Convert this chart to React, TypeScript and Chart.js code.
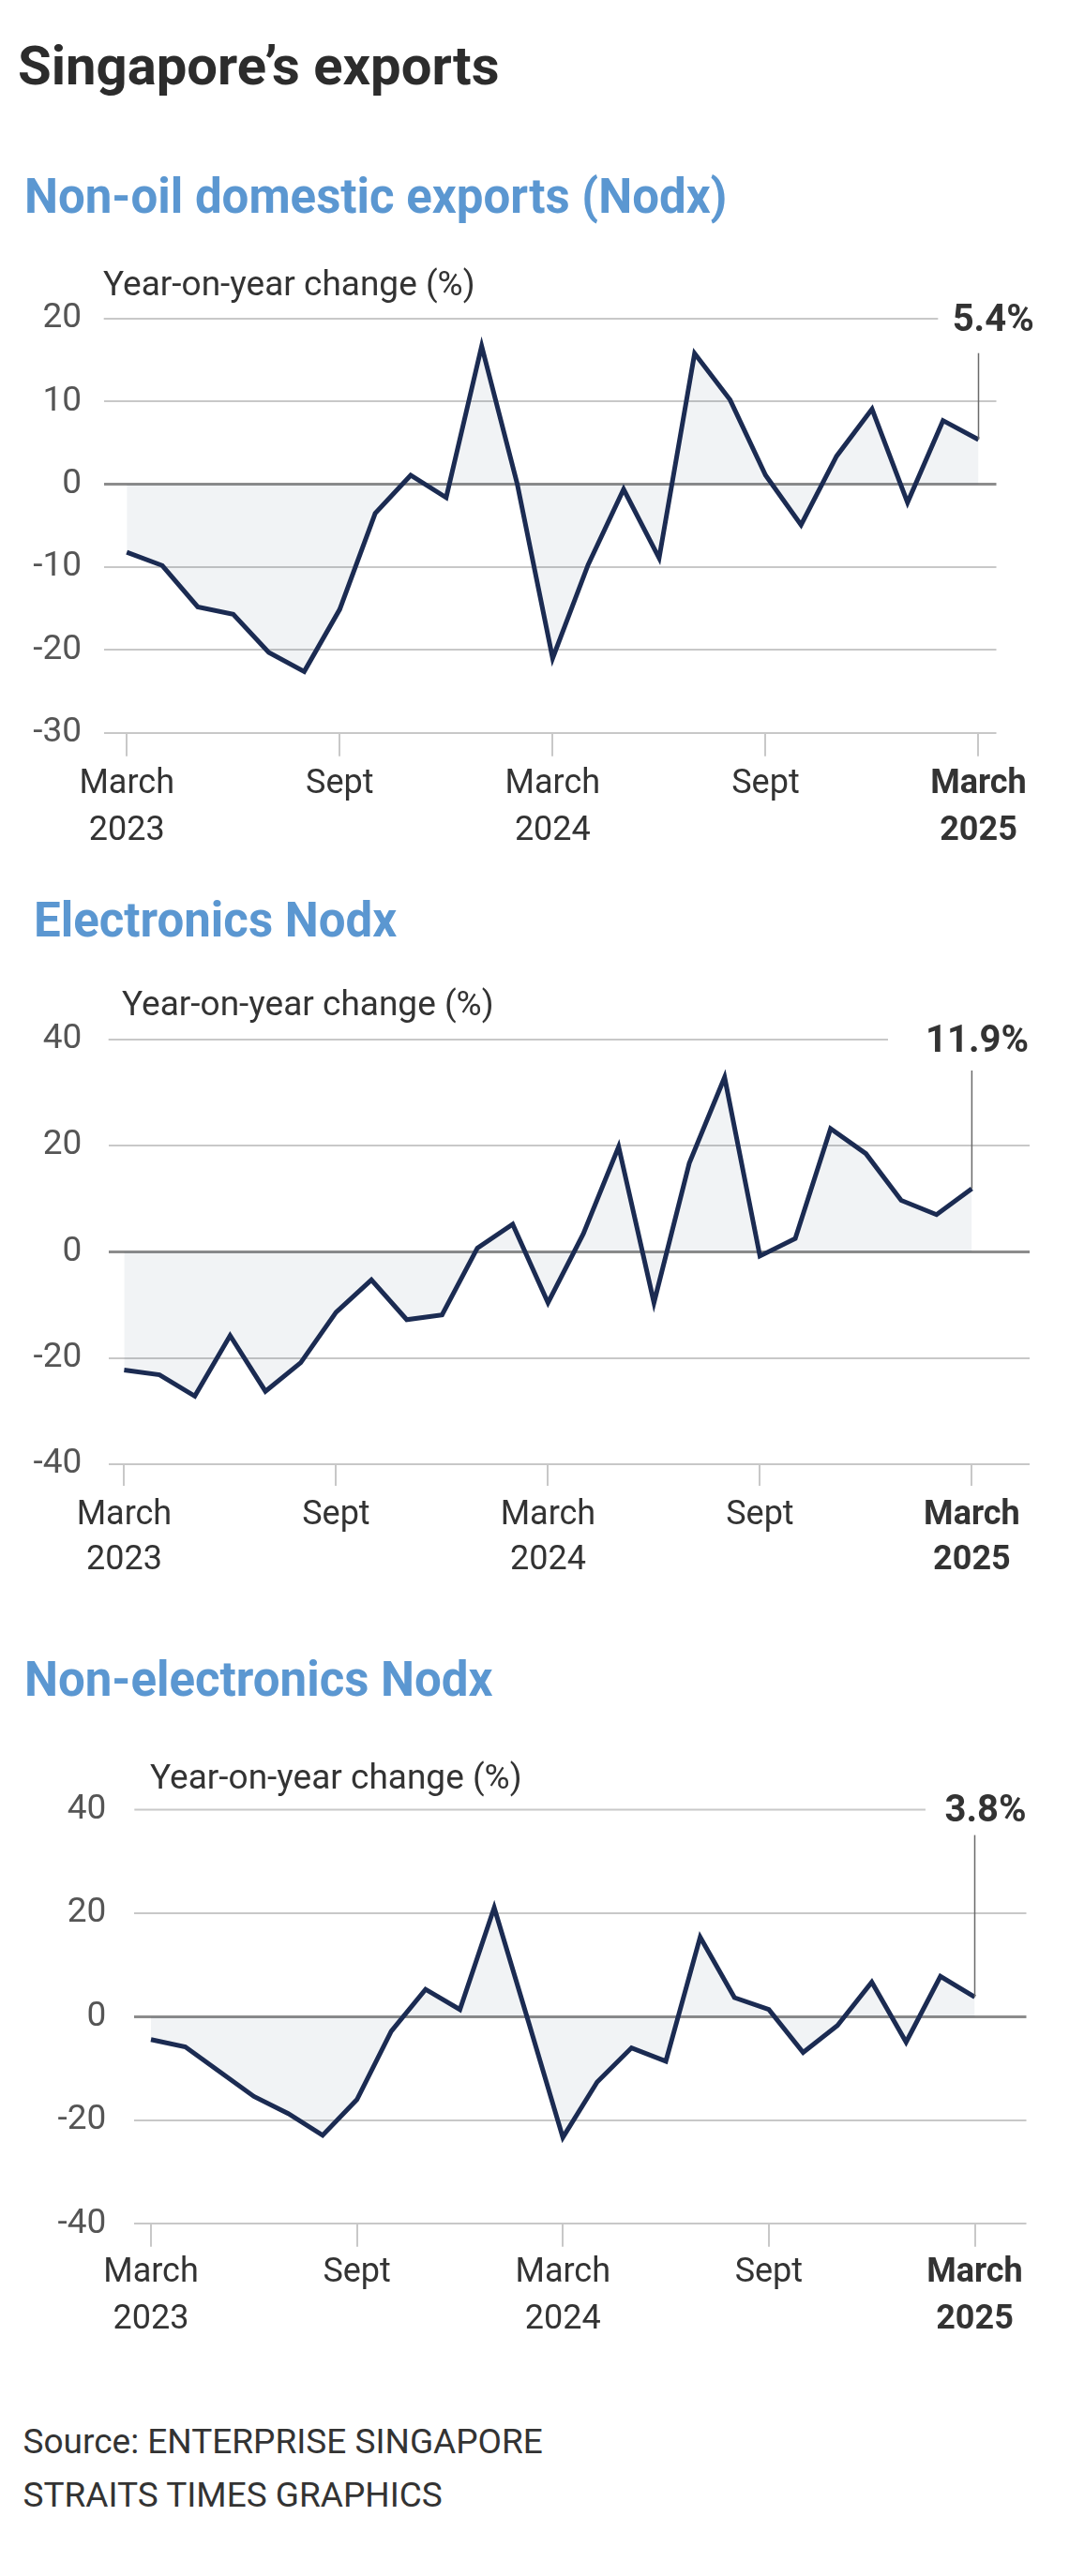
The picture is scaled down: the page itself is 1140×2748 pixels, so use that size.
import React, { useEffect, useRef } from 'react';
import { Chart, registerables } from 'chart.js';

Chart.register(...registerables);

// ---------- data ----------
const months = [
  'Mar 2023', 'Apr 2023', 'May 2023', 'Jun 2023', 'Jul 2023', 'Aug 2023', 'Sep 2023',
  'Oct 2023', 'Nov 2023', 'Dec 2023', 'Jan 2024', 'Feb 2024', 'Mar 2024', 'Apr 2024',
  'May 2024', 'Jun 2024', 'Jul 2024', 'Aug 2024', 'Sep 2024', 'Oct 2024', 'Nov 2024',
  'Dec 2024', 'Jan 2025', 'Feb 2025', 'Mar 2025',
];

const xTickIndex = [0, 6, 12, 18, 24];
const xTickLabels = [['March', '2023'], ['Sept'], ['March', '2024'], ['Sept'], ['March', '2025']];

const nodxValues = [
  -8.2, -9.8, -14.8, -15.7, -20.3, -22.6, -15.1, -3.5, 1.1, -1.6, 16.7, 0.1, -21.0,
  -9.7, -0.6, -8.9, 15.8, 10.2, 1.1, -4.9, 3.4, 9.1, -2.2, 7.7, 5.4,
];
const electronicsValues = [
  -22.3, -23.2, -27.2, -15.8, -26.3, -20.9, -11.4, -5.3, -12.8, -11.9, 0.7, 5.2, -9.6,
  3.4, 19.8, -9.6, 16.7, 32.9, -0.8, 2.5, 23.2, 18.5, 9.7, 7.0, 11.9,
];
const nonElectronicsValues = [
  -4.4, -5.8, -10.6, -15.4, -18.7, -22.9, -16.0, -2.8, 5.3, 1.4, 21.1, -1.0, -23.3,
  -12.6, -6.0, -8.6, 15.4, 3.7, 1.4, -6.9, -1.7, 6.7, -4.9, 7.8, 3.8,
];

const nodxTicks = { min: -30, max: 20, step: 10 };
const electronicsTicks = { min: -40, max: 40, step: 20 };
const nonElectronicsTicks = { min: -40, max: 40, step: 20 };

const nodxLabel = '5.4%';
const electronicsLabel = '11.9%';
const nonElectronicsLabel = '3.8%';

// ---------- styles ----------
const FONT = 'Roboto';
const LINE = '#1b2b52';
const GRID = '#c8c8c8';
const ZERO = '#8c8c8c';
const TEXT = '#333333';
const TICK = '#555555';
const BLUE = '#5b97d1';

type Layout = {
  canvasTop: number;
  canvasHeight: number;
  chartLeft: number;
  chartRight: number;
  chartTop: number;
  chartBottom: number;
  xStart: number;
  xEnd: number;
  yLabelPad: number;
  tickLength: number;
  xLabelPad: number;
  xLineHeight: number;
  labelRight: number;
  gridGap: number;
  vlineOffset: number;
};

function LineChart(props: {
  values: number[];
  ticks: { min: number; max: number; step: number };
  label: string;
  layout: Layout;
}) {
  const ref = useRef<HTMLCanvasElement | null>(null);
  const { values, ticks, label, layout: L } = props;

  useEffect(() => {
    if (!ref.current) return;
    const n = values.length;
    const unit = (L.xEnd - L.xStart) / (n - 1);
    const xMin = -(L.xStart - L.chartLeft) / unit;
    const xMax = n - 1 + (L.chartRight - L.xEnd) / unit;
    const canvasBottom = L.canvasTop + L.canvasHeight;

    const annot = {
      id: 'annot',
      afterDatasetsDraw(chart: any) {
        const { ctx, chartArea, scales } = chart;
        const y = scales.y.getPixelForValue(ticks.max);
        ctx.save();
        ctx.font = `bold 40px ${FONT}`;
        const w = ctx.measureText(label).width;
        ctx.strokeStyle = GRID;
        ctx.lineWidth = 2;
        ctx.beginPath();
        ctx.moveTo(chartArea.left, y);
        ctx.lineTo(L.labelRight - w - L.gridGap, y);
        ctx.stroke();
        ctx.fillStyle = TEXT;
        ctx.textAlign = 'right';
        ctx.textBaseline = 'middle';
        ctx.fillText(label, L.labelRight, y + 2.5);
        const last = n - 1;
        const px = scales.x.getPixelForValue(last);
        const py = scales.y.getPixelForValue(values[last]);
        ctx.strokeStyle = '#6a6a6a';
        ctx.lineWidth = 1.5;
        ctx.beginPath();
        ctx.moveTo(px, y + L.vlineOffset);
        ctx.lineTo(px, py);
        ctx.stroke();
        ctx.restore();
      },
    };

    const chart = new Chart(ref.current, {
      type: 'line',
      data: {
        datasets: [
          {
            label: 'Year-on-year change (%)',
            data: values.map((v, i) => ({ x: i, y: v, month: months[i] })),
            borderColor: LINE,
            borderWidth: 5,
            borderJoinStyle: 'miter',
            pointRadius: 0,
            tension: 0,
            fill: 'origin',
            backgroundColor: 'rgba(50,70,100,0.065)',
          } as any,
        ],
      },
      options: {
        animation: false,
        responsive: false,
        events: [],
        layout: {
          padding: { top: L.chartTop - L.canvasTop, right: 1140 - L.chartRight, left: 0, bottom: 0 },
        },
        plugins: { legend: { display: false }, tooltip: { enabled: false } },
        scales: {
          x: {
            type: 'linear',
            min: xMin,
            max: xMax,
            border: { display: false },
            grid: {
              drawOnChartArea: false,
              drawTicks: true,
              tickLength: L.tickLength,
              color: GRID,
              lineWidth: 2,
            },
            ticks: {
              stepSize: 6,
              includeBounds: false,
              autoSkip: false,
              maxRotation: 0,
              padding: L.xLabelPad,
              color: TEXT,
              font: (ctx: any) => ({
                family: FONT,
                size: 36,
                weight: ctx.tick && ctx.tick.value === 24 ? 'bold' : 'normal',
                lineHeight: L.xLineHeight / 36,
              }),
              callback: (v: any) => {
                const i = xTickIndex.indexOf(Number(v));
                return i >= 0 ? xTickLabels[i] : null;
              },
            },
            afterFit: (s: any) => {
              s.height = canvasBottom - L.chartBottom;
              s.paddingLeft = 0;
              s.paddingRight = 0;
            },
          },
          y: {
            min: ticks.min,
            max: ticks.max,
            border: { display: false },
            grid: {
              drawTicks: false,
              color: (ctx: any) =>
                ctx.tick && ctx.tick.value === ticks.max
                  ? 'rgba(0,0,0,0)'
                  : ctx.tick && ctx.tick.value === 0
                  ? ZERO
                  : GRID,
              lineWidth: (ctx: any) => (ctx.tick && ctx.tick.value === 0 ? 3 : 2),
            },
            ticks: {
              stepSize: ticks.step,
              padding: L.yLabelPad,
              color: TICK,
              font: { family: FONT, size: 37 },
            },
            afterFit: (s: any) => {
              s.width = L.chartLeft;
              s.paddingTop = 0;
              s.paddingBottom = 0;
            },
          },
        },
      },
      plugins: [annot],
    } as any);
    return () => chart.destroy();
  }, []);

  return (
    <canvas
      ref={ref}
      width={1140}
      height={L.canvasHeight}
      style={{ position: 'absolute', left: 0, top: L.canvasTop, width: 1140, height: L.canvasHeight }}
    />
  );
}

function Txt(props: { x: number; cy: number; size: number; bold?: boolean; color: string; children: any }) {
  const { x, cy, size, bold, color, children } = props;
  return (
    <div
      style={{
        position: 'absolute',
        left: x,
        top: cy - 0.486 * size,
        fontFamily: FONT,
        fontSize: size,
        lineHeight: `${size}px`,
        fontWeight: bold ? 700 : 400,
        color,
        whiteSpace: 'nowrap',
        zIndex: 2,
      }}
    >
      {children}
    </div>
  );
}

const layout1: Layout = {
  canvasTop: 280, canvasHeight: 640, chartLeft: 110.7, chartRight: 1062.5, chartTop: 340,
  chartBottom: 781.7, xStart: 135.2, xEnd: 1043.5, yLabelPad: 23.7, tickLength: 25,
  xLabelPad: 5, xLineHeight: 50, labelRight: 1102.7, gridGap: 15.3, vlineOffset: 36.7,
};
const layout2: Layout = {
  canvasTop: 1040, canvasHeight: 660, chartLeft: 115.7, chartRight: 1098, chartTop: 1109,
  chartBottom: 1561.7, xStart: 132.4, xEnd: 1036.4, yLabelPad: 28.4, tickLength: 23.3,
  xLabelPad: 8, xLineHeight: 48, labelRight: 1097, gridGap: 40, vlineOffset: 33,
};
const layout3: Layout = {
  canvasTop: 1870, canvasHeight: 650, chartLeft: 143.3, chartRight: 1094.5, chartTop: 1930.6,
  chartBottom: 2372.3, xStart: 161, xEnd: 1039.5, yLabelPad: 30, tickLength: 24.4,
  xLabelPad: 3, xLineHeight: 50, labelRight: 1094.5, gridGap: 20.5, vlineOffset: 27,
};

export default function App() {
  useEffect(() => {
    document.body.style.margin = '0';
  }, []);
  return (
    <div style={{ position: 'relative', width: 1140, height: 2748, background: '#fff', overflow: 'hidden' }}>
      <Txt x={19} cy={69.3} size={58} bold color="#2c2c2c">Singapore’s exports</Txt>

      <Txt x={26} cy={208.5} size={51} bold color={BLUE}>Non-oil domestic exports (Nodx)</Txt>
      <Txt x={110} cy={301.7} size={37} color={TEXT}>Year-on-year change (%)</Txt>
      <LineChart values={nodxValues} ticks={nodxTicks} label={nodxLabel} layout={layout1} />

      <Txt x={36} cy={981} size={51} bold color={BLUE}>Electronics Nodx</Txt>
      <Txt x={130} cy={1069.6} size={37} color={TEXT}>Year-on-year change (%)</Txt>
      <LineChart values={electronicsValues} ticks={electronicsTicks} label={electronicsLabel} layout={layout2} />

      <Txt x={26} cy={1791} size={51} bold color={BLUE}>Non-electronics Nodx</Txt>
      <Txt x={160} cy={1895} size={37} color={TEXT}>Year-on-year change (%)</Txt>
      <LineChart
        values={nonElectronicsValues}
        ticks={nonElectronicsTicks}
        label={nonElectronicsLabel}
        layout={layout3}
      />

      <Txt x={24.5} cy={2603.7} size={37} color={TEXT}>Source: ENTERPRISE SINGAPORE</Txt>
      <Txt x={24.5} cy={2660.7} size={37} color={TEXT}>STRAITS TIMES GRAPHICS</Txt>
    </div>
  );
}
